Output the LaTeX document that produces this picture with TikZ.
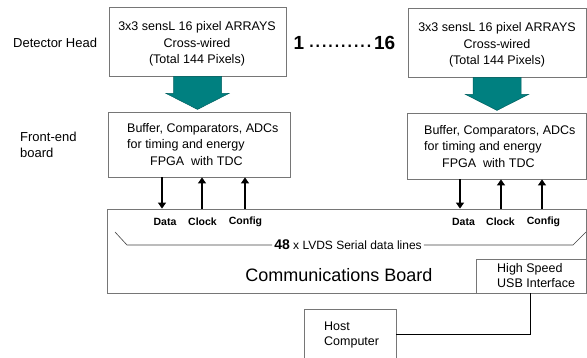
\documentclass[tikz,border=0pt]{standalone}
\usepackage{fontspec}
\setmainfont{Liberation Sans}
\usetikzlibrary{arrows.meta,calc}
\definecolor{boxgray}{RGB}{118,118,118}
\definecolor{arrowteal}{RGB}{0,128,128}

% teal block arrow from the bottom of one box down to the top of the next
\newcommand\tealarrow[1]{%
  \filldraw[fill=arrowteal, draw=arrowteal!75!black, line width=0.5pt]
    ($(#1.south)+(-24,0)$) -- ($(#1.south)+(24,0)$) --
    ($(#1.south)+(24,17)$) -- ($(#1.south)+(31.5,17)$) --
    ($(#1.south)+(0,33)$) --
    ($(#1.south)+(-31.5,17)$) -- ($(#1.south)+(-24,17)$) -- cycle;}

\begin{document}
\begin{tikzpicture}[x=1pt,y=-1pt,
  box/.style={draw=boxgray, line width=0.8pt, rectangle, inner sep=0pt},
  txt/.style={inner sep=0pt, font=\fontsize{12.5}{16.5}\selectfont},
  sig/.style={line width=1.1pt, -{Triangle[width=8pt,length=6pt]}},
  lbl/.style={inner sep=0pt, font=\fontsize{10.5}{12}\selectfont\bfseries},
  side/.style={inner sep=0pt, anchor=west, align=left, font=\fontsize{13}{16}\selectfont},
  brace/.style={draw=black!75, line width=0.6pt}
]
\useasboundingbox (0,0) rectangle (587,358);

% side captions
\node[side] (dh) at (13,43) {Detector Head};
\node[side] (fb) at (20,145) {Front-end\\board};

% detector heads
\node[box, minimum width=177pt, minimum height=69pt] (det1) at (197.5,41.5) {};
\node[txt, align=center] (det1t) at (197,44) {3x3 sensL 16 pixel ARRAYS\\Cross-wired\\(Total 144 Pixels)};
\node[box, minimum width=178pt, minimum height=69pt] (det2) at (497,42.5) {};
\node[txt, align=center] (det2t) at (497,45) {3x3 sensL 16 pixel ARRAYS\\Cross-wired\\(Total 144 Pixels)};

\node[inner sep=0pt, font=\fontsize{19}{20}\selectfont\bfseries] (rng) at (344.5,43)
  {1\hspace{4pt}\raisebox{2pt}{\fontsize{23}{24}\selectfont\mdseries ..........}\hspace{2pt}16};

% front-end boards
\node[box, minimum width=182pt, minimum height=65pt] (fe1) at (199,144.5) {};
\node[txt, anchor=west, align=left] (fe1t) at (127,144.5)
  {Buffer, Comparators, ADCs\\for timing and energy\\\hspace{23pt}FPGA\ \ with TDC};
\node[box, minimum width=179pt, minimum height=66pt] (fe2) at (496.5,146) {};
\node[txt, anchor=west, align=left] (fe2t) at (424,146.5)
  {Buffer, Comparators, ADCs\\for timing and energy\\\hspace{18pt}FPGA\ \ with TDC};

\tealarrow{det1}
\tealarrow{det2}

% communications board
\node[box, minimum width=479pt, minimum height=84pt] (comm) at (346.5,251) {};
\node[inner sep=0pt, font=\fontsize{18}{20}\selectfont] (commt) at (339,275) {Communications Board};
\node[box, minimum width=110pt, minimum height=34pt] (usb) at (531,276) {};
\node[txt, anchor=west, align=left, font=\fontsize{12.5}{15}\selectfont] (usbt) at (497,275.5) {High Speed\\USB Interface};

% signal lines between front-end and communications board
\coordinate (a1) at (162,0);
\coordinate (a2) at (202,0);
\coordinate (a3) at (245,0);
\coordinate (b1) at (460,0);
\coordinate (b2) at (501,0);
\coordinate (b3) at (542,0);
\draw[sig] (a1 |- fe1.south) -- (a1 |- comm.north);
\draw[sig] (a2 |- comm.north) -- (a2 |- fe1.south);
\draw[sig] (a3 |- comm.north) -- (a3 |- fe1.south);
\draw[sig] (b1 |- fe2.south) -- (b1 |- comm.north);
\draw[sig] (b2 |- comm.north) -- (b2 |- fe2.south);
\draw[sig] (b3 |- comm.north) -- (b3 |- fe2.south);

\node[lbl] (l1) at (165,222) {Data};
\node[lbl] (l2) at (202.5,222) {Clock};
\node[lbl] (l3) at (245.5,222) {Config};
\node[lbl] (r1) at (463.5,222) {Data};
\node[lbl] (r2) at (500.5,222) {Clock};
\node[lbl] (r3) at (543.5,222) {Config};

% brace over the serial lines
\node[inner sep=2pt, font=\fontsize{12}{14}\selectfont] (lvds) at (348,245)
  {{\fontsize{14}{16}\selectfont\bfseries 48} x LVDS Serial data lines};
\coordinate (bl0) at (115,232);
\coordinate (bl1) at (127,245);
\coordinate (br1) at (573,245);
\coordinate (br0) at (586,232);
\draw[brace] (bl0) -- (bl1) -- (lvds.west);
\draw[brace] (lvds.east) -- (br1) -- (br0);

% host computer
\node[box, minimum width=92pt, minimum height=51pt] (host) at (350,334.5) {};
\node[txt, anchor=west, align=left, font=\fontsize{12.5}{15}\selectfont] (hostt) at (324,334.5) {Host\\Computer};
\coordinate (c1) at (530,0);
\draw[line width=1pt] (c1 |- usb.south) |- (host.east);
\end{tikzpicture}
\end{document}
